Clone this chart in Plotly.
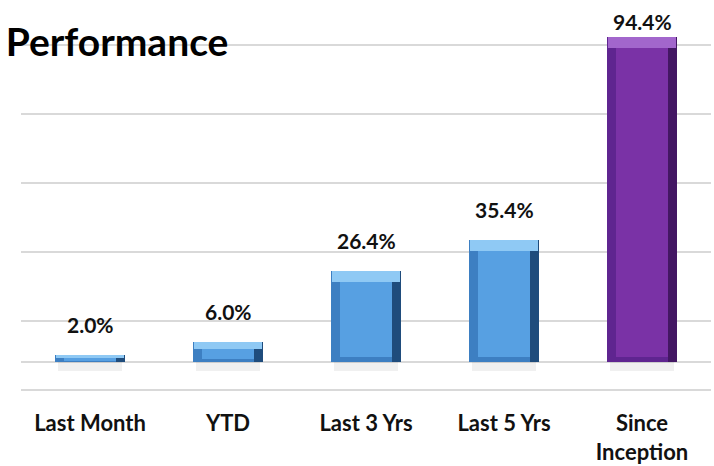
import plotly.graph_objects as go

categories = ["Last Month", "YTD", "Last 3 Yrs", "Last 5 Yrs", "Since<br>Inception"]
values = [2.0, 6.0, 26.4, 35.4, 94.4]
labels = ["2.0%", "6.0%", "26.4%", "35.4%", "94.4%"]

face = ["#57a0e2", "#57a0e2", "#57a0e2", "#57a0e2", "#7a32a6"]
left_edge = ["#3d7fc2", "#3d7fc2", "#3d7fc2", "#3d7fc2", "#5f2590"]
right_edge = ["#1f4c7c", "#1f4c7c", "#1f4c7c", "#1f4c7c", "#431763"]
top_hi = ["#8fc9f4", "#8fc9f4", "#8fc9f4", "#8fc9f4", "#a266cc"]

YMIN, YMAX = -8.6, 105.2
PLOT_TOP, PLOT_BOT = 0, 392
ppu = (PLOT_BOT - PLOT_TOP) / (YMAX - YMIN)
bevel_px = 11
bevel = [min(bevel_px / ppu, v / 3) for v in values]

fig = go.Figure()
# soft shadow below bars
fig.add_trace(go.Bar(x=categories, y=[2.4] * len(values), base=[-2.4] * len(values),
                     width=0.46, marker=dict(color="rgba(0,0,0,0.06)", line=dict(width=0)),
                     hoverinfo="skip", showlegend=False))
# outer bar (left / bottom edges)
fig.add_trace(go.Bar(x=categories, y=values, width=0.51,
                     marker=dict(color=left_edge, line=dict(width=0)), showlegend=False))
# right edge (darker)
fig.add_trace(go.Bar(x=categories, y=values, width=0.065, offset=0.19,
                     marker=dict(color=right_edge, line=dict(width=0)),
                     hoverinfo="skip", showlegend=False))
# top bevel highlight
fig.add_trace(go.Bar(x=categories, y=bevel, base=[v - b for v, b in zip(values, bevel)],
                     width=0.49, marker=dict(color=top_hi, line=dict(width=0)),
                     hoverinfo="skip", showlegend=False))
# inner face
fig.add_trace(go.Bar(x=categories, y=[v - 1.5 * b for v, b in zip(values, bevel)],
                     base=[0.5 * b for b in bevel],
                     width=0.38, marker=dict(color=face, line=dict(width=0)),
                     hoverinfo="skip", showlegend=False))

for c, v, t in zip(categories, values, labels):
    top_px = (YMAX - v) * ppu
    shift = min(16, top_px - 36)
    fig.add_annotation(x=c, y=v, text=t, showarrow=False, yanchor="bottom", yshift=shift,
                       font=dict(family="Lato", size=21, color="#111111", weight="bold"))

fig.update_layout(
    width=714, height=466,
    margin=dict(l=21, r=3, t=PLOT_TOP, b=466 - PLOT_BOT),
    paper_bgcolor="white", plot_bgcolor="white",
    barmode="overlay", bargap=0,
    showlegend=False,
    title=dict(text="<b>Performance</b>", x=0.008, xanchor="left", xref="container",
               y=1 - 42 / 466, yanchor="middle", yref="container",
               font=dict(family="Lato", size=39, color="#000000")),
    xaxis=dict(range=[-0.5, 4.5], showgrid=False, showline=False, ticks="",
               automargin=False,
               tickfont=dict(family="Lato", size=22, color="#111111", weight="bold"),
               ticklabelstandoff=16),
    yaxis=dict(range=[YMIN, YMAX], tick0=-8, dtick=20, showticklabels=False,
               automargin=False,
               gridcolor="#d9d9d9", gridwidth=2, zeroline=True, zerolinecolor="#d9d9d9",
               zerolinewidth=2, showline=False),
)

fig.write_html("out.html", config={"displayModeBar": False},
               post_script="document.body.style.margin='0';")
